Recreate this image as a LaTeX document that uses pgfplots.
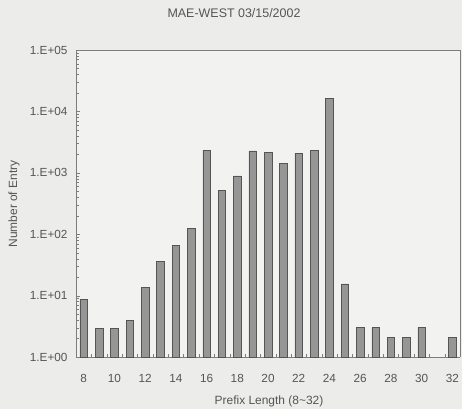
\documentclass[border=0pt]{standalone}
\usepackage{pgfplots}
\pgfplotsset{compat=1.18}
\usepackage{fontspec}
\setmainfont{Liberation Sans}
\definecolor{bgpaper}{RGB}{236,236,234}
\definecolor{plotbg}{RGB}{242,242,240}
\definecolor{barfill}{RGB}{150,150,150}
\definecolor{baredge}{RGB}{85,85,85}
\definecolor{axisgray}{RGB}{125,125,125}
\definecolor{txtgray}{RGB}{85,85,85}
\begin{document}
\begin{tikzpicture}[x=1bp,y=1bp]
\fill[bgpaper] (0,0) rectangle (462,409);
\useasboundingbox (0,0) rectangle (462,409);
\begin{axis}[
    at={(76bp,52bp)}, anchor=south west,
    scale only axis,
    width=384bp, height=307bp,
    ymode=log,
    ymin=1, ymax=100000,
    xmin=7.5, xmax=32.5,
    ybar, bar width=7.5bp,
    axis background/.style={fill=plotbg},
    axis line style={axisgray, line width=0.8pt},
    ytick={1,10,100,1000,10000,100000},
    yticklabels={1.E+00,1.E+01,1.E+02,1.E+03,1.E+04,1.E+05},
    xtick={8,10,...,32},
    xticklabels={8,10,12,14,16,18,20,22,24,26,28,30,32},
    minor xtick={8.5,9.5,...,31.5},
    minor y tick num=0,
    major x tick style={draw=none},
    ytick style={axisgray},
    minor x tick style={axisgray},
    tick align=inside,
    major tick length=4bp, minor tick length=3bp,
    tick label style={font=\fontsize{11.8}{12}\selectfont, text=txtgray},
    xticklabel style={yshift=-14bp},
    yticklabel style={xshift=-5bp},
    axis x line*=bottom,
    axis y line*=left,
    clip=false,
]
\addplot[fill=barfill, draw=baredge, line width=0.5pt] coordinates {
(8,8.8) (9,2.9) (10,2.9) (11,3.9) (12,13.8) (13,36) (14,66) (15,123)
(16,2340) (17,520) (18,893) (19,2280) (20,2150) (21,1410) (22,2100)
(23,2340) (24,16500) (25,15.5) (26,3.05) (27,3.0) (28,2.1) (29,2.1)
(30,3.0) (32,2.1)
};
\end{axis}
% frame top and right
\draw[axisgray, line width=0.8pt] (76,359) -- (460,359) -- (460,52);
\node[text=txtgray, font=\fontsize{12.5}{13}\selectfont] at (234,396) {MAE-WEST 03/15/2002};
\node[text=txtgray, font=\fontsize{12}{13}\selectfont, rotate=90] at (14,205) {Number of Entry};
\node[text=txtgray, font=\fontsize{12}{13}\selectfont] at (269,8) {Prefix Length (8\textasciitilde 32)};
\end{tikzpicture}
\end{document}
